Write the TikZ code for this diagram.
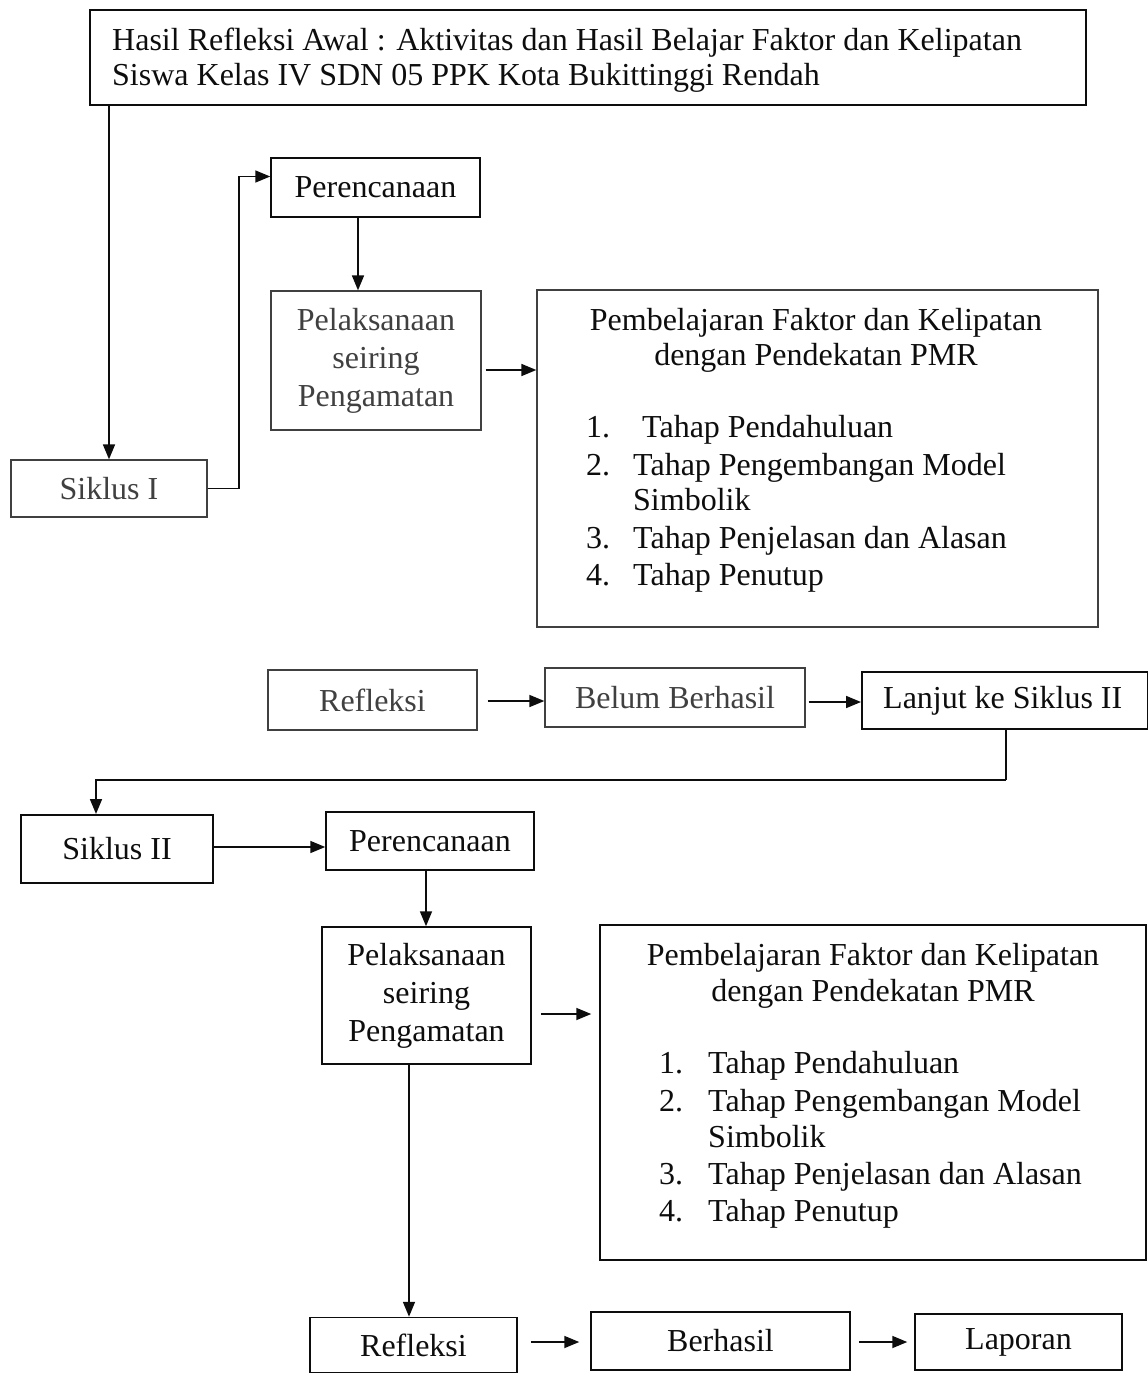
\documentclass[tikz,border=0pt]{standalone}
\usepackage{fontspec}
\setmainfont{Liberation Serif}
\usetikzlibrary{arrows.meta}
\definecolor{ink}{gray}{0.05}
\definecolor{soft}{gray}{0.25}
\begin{document}
\begin{tikzpicture}[x=1pt,y=-1pt,
  font=\fontsize{32}{38}\selectfont,
  box/.style={draw=ink,line width=1.5pt,inner sep=0pt,text=ink,align=center},
  sbox/.style={draw=soft,line width=1.3pt,inner sep=0pt,text=soft,align=center},
  txt/.style={inner sep=0pt,anchor=base west,text=ink},
  ctxt/.style={inner sep=0pt,anchor=base,text=ink},
  arr/.style={draw=ink,line width=1.7pt,-{Triangle[length=15pt,width=12pt]}},
  ln/.style={draw=ink,line width=1.5pt}]
\path[use as bounding box] (0,0) rectangle (1148,1373);

% top box
\node[box,minimum width=996pt,minimum height=95pt] (top) at (588,57.5) {};
\node[txt] (t1) at (112,50) {Hasil Refleksi Awal : Aktivitas dan Hasil Belajar Faktor dan Kelipatan};
\node[txt] (t2) at (112,85) {Siswa Kelas IV SDN 05 PPK Kota Bukittinggi Rendah};

% cycle I
\node[sbox,minimum width=196pt,minimum height=57pt] (sA) at (109,488.5) {Siklus I};
\node[box,minimum width=209pt,minimum height=59pt] (pA) at (375.5,187.5) {Perencanaan};
\node[sbox,minimum width=210pt,minimum height=139pt] (lA) at (376,360.5) {Pelaksanaan\\seiring\\Pengamatan};
\node[sbox,minimum width=561pt,minimum height=337pt] (bA) at (817.5,458.5) {};
\node[ctxt] at (816,330) {Pembelajaran Faktor dan Kelipatan};
\node[ctxt] at (816,365) {dengan Pendekatan PMR};
\node[txt] at (586,437) {1.};
\node[txt] at (642,437) {Tahap Pendahuluan};
\node[txt] at (586,475) {2.};
\node[txt] at (633,475) {Tahap Pengembangan Model};
\node[txt] at (633,510) {Simbolik};
\node[txt] at (586,548) {3.};
\node[txt] at (633,548) {Tahap Penjelasan dan Alasan};
\node[txt] at (586,585) {4.};
\node[txt] at (633,585) {Tahap Penutup};

\draw[arr] (top.south -| sA.north) -- (sA.north);
\draw[arr] (sA.east) -- ++(31,0) |- ([yshift=11pt]pA.west);
\draw[arr] (pA.south -| 358,0) -- (lA.north -| 358,0);
\draw[arr] ([xshift=4pt]lA.east |- 0,370) -- (bA.west |- 0,370);

% reflection I
\node[sbox,minimum width=209pt,minimum height=60pt] (rA) at (372.5,700) {Refleksi};
\node[sbox,minimum width=260pt,minimum height=59pt] (bb) at (675,697.5) {Belum Berhasil};
\node[box,minimum width=286pt,minimum height=57pt,anchor=west] (lj) at (861,700.5) {\hspace*{-4pt}Lanjut ke Siklus II};
\draw[arr] ([xshift=10pt]rA.east |- 0,701) -- (bb.west |- 0,701);
\draw[arr] ([xshift=3pt]bb.east |- 0,702) -- (lj.west |- 0,702);

% cycle II
\node[box,minimum width=192pt,minimum height=68pt] (sB) at (117,849) {Siklus II};
\node[box,minimum width=208pt,minimum height=58pt] (pB) at (430,841) {Perencanaan};
\node[box,minimum width=209pt,minimum height=137pt] (lB) at (426.5,995.5) {Pelaksanaan\\seiring\\Pengamatan};
\node[box,minimum width=546pt,minimum height=335pt] (bB) at (873,1092.5) {};
\node[ctxt] at (873,965) {Pembelajaran Faktor dan Kelipatan};
\node[ctxt] at (873,1001) {dengan Pendekatan PMR};
\node[txt] at (659,1073) {1.};
\node[txt] at (708,1073) {Tahap Pendahuluan};
\node[txt] at (659,1111) {2.};
\node[txt] at (708,1111) {Tahap Pengembangan Model};
\node[txt] at (708,1147) {Simbolik};
\node[txt] at (659,1184) {3.};
\node[txt] at (708,1184) {Tahap Penjelasan dan Alasan};
\node[txt] at (659,1221) {4.};
\node[txt] at (708,1221) {Tahap Penutup};

\coordinate (c1) at (1006,780);
\draw[ln] (lj.south -| c1) -- (c1);
\draw[arr] (c1) -| (96,814);
\draw[arr] (sB.east |- 0,847) -- (pB.west |- 0,847);
\draw[arr] (pB.south -| 426,0) -- (lB.north -| 426,0);
\draw[arr] ([xshift=9pt]lB.east |- 0,1014) -- ([xshift=-8pt]bB.west |- 0,1014);

% reflection II
\node[box,minimum width=207pt,minimum height=55pt] (rB) at (413.5,1345) {Refleksi};
\node[box,minimum width=259pt,minimum height=58pt] (bh) at (720.5,1341) {Berhasil};
\node[box,minimum width=207pt,minimum height=56pt] (lp) at (1018.5,1342) {Laporan};
\draw[arr] (lB.south -| 409,0) -- (rB.north -| 409,0);
\draw[arr] ([xshift=13pt]rB.east |- 0,1342) -- ([xshift=-11pt]bh.west |- 0,1342);
\draw[arr] ([xshift=8pt]bh.east |- 0,1342) -- ([xshift=-7pt]lp.west |- 0,1342);
\end{tikzpicture}
\end{document}
